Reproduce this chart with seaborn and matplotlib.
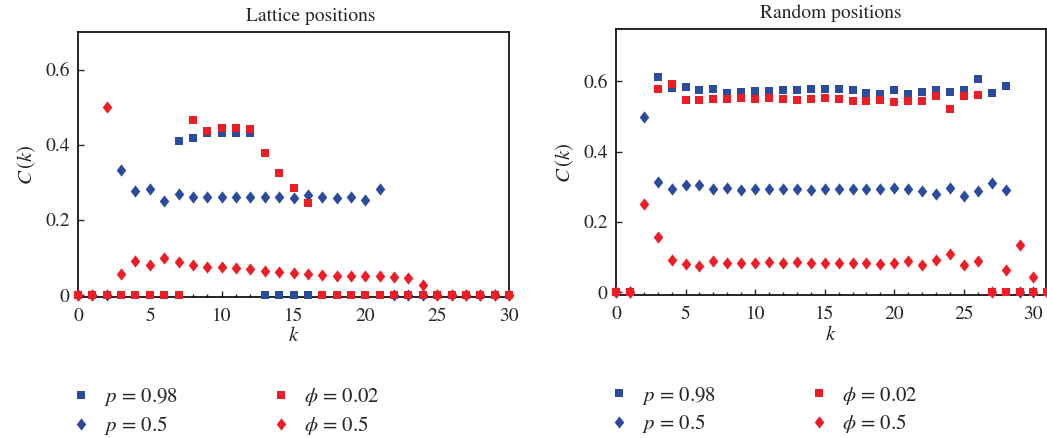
import numpy as np
import pandas as pd
import matplotlib
matplotlib.use("Agg")
import matplotlib.pyplot as plt
from matplotlib.ticker import MultipleLocator
import seaborn as sns

sns.set_style("white")
plt.rcParams.update({
    "font.family": "STIXGeneral",
    "mathtext.fontset": "stix",
    "font.size": 13.5,
})

BLUE = "#2B4C9E"
RED = "#EE1D25"
nan = np.nan

# ---- lattice positions (left) ----
lat_k = np.arange(0, 31)
lat_p098 = [0, 0, 0, 0, 0, 0, 0, 0.409, 0.417, 0.431, 0.431, 0.431, 0.431,
            0, 0, 0, 0, 0, 0, 0, 0, 0, 0, 0, 0, 0, 0, 0, 0, 0, 0]
lat_p05 = [0, 0, 0, 0.333, 0.277, 0.283, 0.251, 0.268, 0.260, 0.262, 0.260,
           0.261, 0.261, 0.261, 0.261, 0.259, 0.265, 0.261, 0.259, 0.261,
           0.252, 0.282, 0, 0, 0, 0, 0, 0, 0, 0, 0]
lat_phi002 = [0, 0, 0, 0, 0, 0, 0, 0, 0.465, 0.437, 0.445, 0.445, 0.442,
              0.377, 0.326, 0.284, 0.246, 0, 0, 0, 0, 0, 0, 0, 0, 0, 0, 0,
              0, 0, 0]
lat_phi05 = [0, 0, 0.500, 0.056, 0.090, 0.081, 0.099, 0.087, 0.081, 0.076,
             0.076, 0.073, 0.069, 0.065, 0.062, 0.059, 0.055, 0.054, 0.052,
             0.052, 0.051, 0.051, 0.047, 0.046, 0.027, 0, 0, 0, 0, 0, 0]

# ---- random positions (right) ----
rnd_k = np.arange(0, 32)
rnd_p098 = [0, 0, nan, 0.612, 0.580, 0.583, 0.575, 0.577, 0.567, 0.569, 0.572,
            0.572, 0.575, 0.575, 0.577, 0.578, 0.578, 0.575, 0.567, 0.564,
            0.575, 0.564, 0.570, 0.574, 0.570, 0.574, 0.607, 0.567, 0.587,
            0, 0, 0]
rnd_p05 = [0, 0, 0.499, 0.314, 0.294, 0.306, 0.306, 0.292, 0.297, 0.291,
           0.294, 0.294, 0.294, 0.294, 0.291, 0.294, 0.294, 0.292, 0.294,
           0.294, 0.296, 0.294, 0.288, 0.279, 0.297, 0.274, 0.288, 0.311,
           0.291, 0, 0, 0]
rnd_phi002 = [0, 0, nan, 0.578, 0.593, 0.546, 0.546, 0.549, 0.549, 0.552,
              0.549, 0.552, 0.549, 0.546, 0.549, 0.552, 0.549, 0.543, 0.543,
              0.546, 0.540, 0.543, 0.543, 0.557, 0.520, 0.557, 0.560, 0, 0,
              0, 0, 0]
rnd_phi05 = [0, 0, 0.250, 0.156, 0.091, 0.081, 0.075, 0.089, 0.083, 0.083,
             0.084, 0.085, 0.083, 0.085, 0.083, 0.084, 0.083, 0.082, 0.083,
             0.081, 0.083, 0.089, 0.077, 0.091, 0.107, 0.077, 0.088, 0,
             0.064, 0.133, 0.043, 0]

labels = ["$p$ = 0.98", "$p$ = 0.5", r"$\phi$ = 0.02", r"$\phi$ = 0.5"]

# slightly tall diamond, like the original glyph
DIAMOND = [(-0.78, 0), (0, 1), (0.78, 0), (0, -1), (-0.78, 0)]
styles = [(BLUE, "s", 33, 5.8), (BLUE, DIAMOND, 78, 8.8),
          (RED, "s", 33, 5.8), (RED, DIAMOND, 78, 8.8)]


def draw_panel(ax, k, series, title, xlim, ylim, title_x):
    handles = []
    for vals, lab, (clr, mk, sz, ms) in zip(series, labels, styles):
        df = pd.DataFrame({"k": k, "C": vals}).dropna()
        sns.scatterplot(data=df, x="k", y="C", color=clr, marker=mk, s=sz,
                        linewidth=0, ax=ax, clip_on=False, zorder=3)
        handles.append(plt.Line2D([], [], ls="", marker=mk, color=clr,
                                  ms=ms, mew=0))
    ax.set_xlim(*xlim)
    ax.set_ylim(*ylim)
    ax.xaxis.set_major_locator(MultipleLocator(5))
    ax.xaxis.set_minor_locator(MultipleLocator(1))
    ax.yaxis.set_major_locator(MultipleLocator(0.2))
    ax.yaxis.set_major_formatter(
        plt.FuncFormatter(lambda v, p: "0" if abs(v) < 1e-9 else f"{v:.1f}"))
    ax.tick_params(which="both", direction="in", top=False, right=False,
                   left=True, bottom=True, labelsize=14, pad=6)
    ax.tick_params(axis="x", which="both", pad=8)
    ax.tick_params(which="major", length=4, width=1)
    ax.tick_params(which="minor", length=2.5, width=1)
    for sp in ax.spines.values():
        sp.set_color("black")
        sp.set_linewidth(1.2)
    ax.set_title(title, fontsize=14, x=title_x, pad=8)
    ax.set_xlabel("$k$", fontsize=15, labelpad=1)
    ax.set_ylabel("$C\\,(k)$", fontsize=15, labelpad=5)

    kw = dict(loc="center left", frameon=False, handlelength=0.8,
              handletextpad=0.7, fontsize=15, labelspacing=0.28,
              borderpad=0, borderaxespad=0)
    leg1 = ax.legend(handles[:2], labels[:2],
                     bbox_to_anchor=(-0.012, -0.432), **kw)
    ax.add_artist(leg1)
    ax.legend(handles[2:], labels[2:], bbox_to_anchor=(0.452, -0.432), **kw)


fig = plt.figure(figsize=(10.47, 4.38), dpi=100)
ax1 = fig.add_axes([0.0745, 0.322, 0.4117, 0.605])
ax2 = fig.add_axes([0.5883, 0.326, 0.4107, 0.607])

draw_panel(ax1, lat_k, [lat_p098, lat_p05, lat_phi002, lat_phi05],
           "Lattice positions", (0, 30), (-0.005, 0.70), 0.54)
draw_panel(ax2, rnd_k, [rnd_p098, rnd_p05, rnd_phi002, rnd_phi05],
           "Random positions", (0, 30.9), (-0.009, 0.748), 0.5)

fig.savefig("out.png", dpi=100)
